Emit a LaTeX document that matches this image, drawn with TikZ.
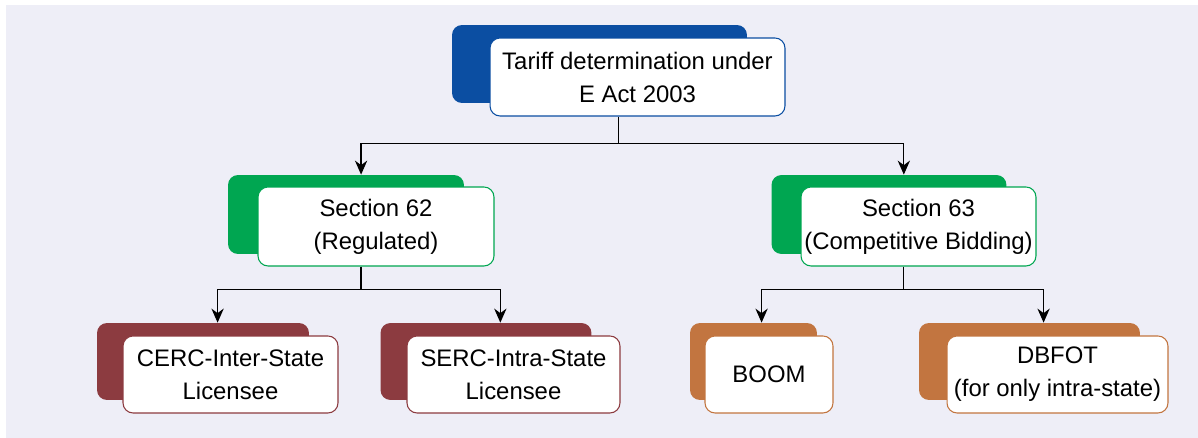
\documentclass[tikz,border=0pt]{standalone}
\usepackage{fontspec}
\setmainfont{Liberation Sans}
\usetikzlibrary{arrows.meta,calc}

\definecolor{panel}{HTML}{EEEEF7}
\definecolor{actblue}{HTML}{0B4EA2}
\definecolor{secgreen}{HTML}{00A651}
\definecolor{licred}{HTML}{8C3B40}
\definecolor{bidorange}{HTML}{C27540}

\begin{document}
\begin{tikzpicture}[x=0.02cm,y=-0.02cm,
    every node/.style={inner sep=0pt, align=center, font=\fontsize{13.6}{18.8}\selectfont},
    back/.style={fill=#1, rounded corners=0.2cm},
    front/.style={draw=#1, fill=white, rounded corners=0.2cm, line width=0.6pt},
    link/.style={line width=0.7pt},
    arr/.style={link, -{Stealth[length=8pt,width=7pt]}}]
      \useasboundingbox (0,0) rectangle (1198,438);
      \fill [panel] (6,5) rectangle (1198,438);
      % level 1
      \node [back=actblue, minimum width=5.9cm, minimum height=1.56cm] (tariffbg) at (599.5,64) {};
      \node [front=actblue, minimum width=5.9cm, minimum height=1.56cm] (tariff) at (637.5,77) {Tariff determination under\\E Act 2003};
      % level 2
      \node [back=secgreen, minimum width=4.72cm, minimum height=1.58cm] (sec62bg) at (346,214.5) {};
      \node [front=secgreen, minimum width=4.72cm, minimum height=1.58cm] (sec62) at (376,226.5) {Section 62\\(Regulated)};
      \node [back=secgreen, minimum width=4.7cm, minimum height=1.58cm] (sec63bg) at (889,214.5) {};
      \node [front=secgreen, minimum width=4.7cm, minimum height=1.58cm] (sec63) at (918.5,226.5) {Section 63\\(Competitive Bidding)};
      % level 3
      \node [back=licred, minimum width=4.24cm, minimum height=1.54cm] (cercbg) at (203,361.5) {};
      \node [front=licred, minimum width=4.3cm, minimum height=1.54cm] (cerc) at (230.5,374.5) {CERC-Inter-State\\Licensee};
      \node [back=licred, minimum width=4.22cm, minimum height=1.54cm] (sercbg) at (486,361.5) {};
      \node [front=licred, minimum width=4.26cm, minimum height=1.54cm] (serc) at (513.5,374.5) {SERC-Intra-State\\Licensee};
      \node [back=bidorange, minimum width=2.54cm, minimum height=1.54cm] (boombg) at (753.5,361.5) {};
      \node [front=bidorange, minimum width=2.56cm, minimum height=1.54cm] (boom) at (769,374.5) {BOOM};
      \node [back=bidorange, minimum width=4.42cm, minimum height=1.54cm] (dbfotbg) at (1029.5,361.5) {};
      \node [front=bidorange, minimum width=4.42cm, minimum height=1.54cm] (dbfot) at (1057.5,374.5) {DBFOT\\(for only intra-state)};
      % stems
      \coordinate (tariffmid) at ($(tariffbg.west)!.5!(tariff.east)$);
      \coordinate (sec62mid) at ($(sec62bg.west)!.5!(sec62.east)$);
      \coordinate (sec63mid) at ($(sec63bg.west)!.5!(sec63.east)$);
      \coordinate (cercmid) at ($(cercbg.west)!.5!(cerc.east)$);
      \coordinate (sercmid) at ($(sercbg.west)!.5!(serc.east)$);
      \coordinate (boommid) at ($(boombg.west)!.5!(boom.east)$);
      \coordinate (dbfotmid) at ($(dbfotbg.west)!.5!(dbfot.east)$);
      % connectors
      \draw [link] (tariffmid |- tariff.south) -- ++(0,27) coordinate (tariffbar);
      \draw [arr] (tariffbar) -| (sec62mid |- sec62bg.north);
      \draw [arr] (tariffbar) -| (sec63mid |- sec63bg.north);
      \draw [link] (sec62mid |- sec62.south) -- ++(0,23) coordinate (sec62bar);
      \draw [arr] (sec62bar) -| (cercmid |- cercbg.north);
      \draw [arr] (sec62bar) -| (sercmid |- sercbg.north);
      \draw [link] (sec63mid |- sec63.south) -- ++(0,23) coordinate (sec63bar);
      \draw [arr] (sec63bar) -| (boommid |- boombg.north);
      \draw [arr] (sec63bar) -| (dbfotmid |- dbfotbg.north);
\end{tikzpicture}
\end{document}
